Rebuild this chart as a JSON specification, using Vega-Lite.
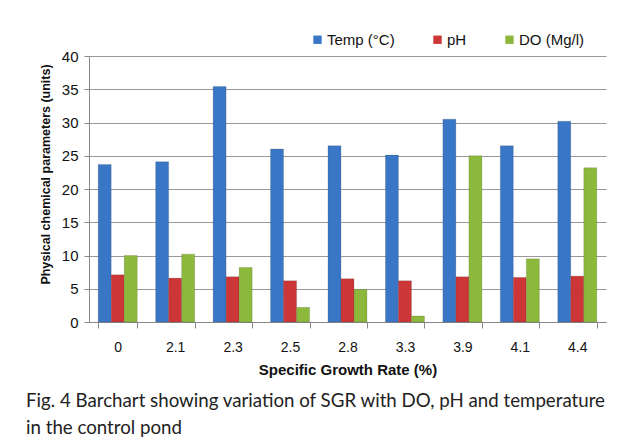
{
  "$schema": "https://vega.github.io/schema/vega-lite/v6.json",
  "autosize": {"type": "none"},
  "width": 517,
  "height": 266,
  "padding": {"left": 89, "top": 56, "right": 21, "bottom": 122},
  "background": "white",
  "title": {
    "text": ["Fig. 4 Barchart showing variation of SGR with DO, pH and temperature", "in the control pond"],
    "orient": "bottom",
    "anchor": "start",
    "frame": "group",
    "dx": -63,
    "offset": 15,
    "font": "Lato",
    "fontSize": 18.7,
    "fontWeight": "normal",
    "color": "#222",
    "lineHeight": 27
  },
  "data": {
    "values": [
      {"sgr": "0", "param": "Temp (°C)", "value": 23.7},
      {"sgr": "0", "param": "pH", "value": 7.1},
      {"sgr": "0", "param": "DO (Mg/l)", "value": 10.0},
      {"sgr": "2.1", "param": "Temp (°C)", "value": 24.1},
      {"sgr": "2.1", "param": "pH", "value": 6.6},
      {"sgr": "2.1", "param": "DO (Mg/l)", "value": 10.2},
      {"sgr": "2.3", "param": "Temp (°C)", "value": 35.4},
      {"sgr": "2.3", "param": "pH", "value": 6.8},
      {"sgr": "2.3", "param": "DO (Mg/l)", "value": 8.2},
      {"sgr": "2.5", "param": "Temp (°C)", "value": 26.0},
      {"sgr": "2.5", "param": "pH", "value": 6.2},
      {"sgr": "2.5", "param": "DO (Mg/l)", "value": 2.2},
      {"sgr": "2.8", "param": "Temp (°C)", "value": 26.5},
      {"sgr": "2.8", "param": "pH", "value": 6.5},
      {"sgr": "2.8", "param": "DO (Mg/l)", "value": 4.9},
      {"sgr": "3.3", "param": "Temp (°C)", "value": 25.1},
      {"sgr": "3.3", "param": "pH", "value": 6.2},
      {"sgr": "3.3", "param": "DO (Mg/l)", "value": 0.9},
      {"sgr": "3.9", "param": "Temp (°C)", "value": 30.5},
      {"sgr": "3.9", "param": "pH", "value": 6.8},
      {"sgr": "3.9", "param": "DO (Mg/l)", "value": 25.0},
      {"sgr": "4.1", "param": "Temp (°C)", "value": 26.5},
      {"sgr": "4.1", "param": "pH", "value": 6.7},
      {"sgr": "4.1", "param": "DO (Mg/l)", "value": 9.5},
      {"sgr": "4.4", "param": "Temp (°C)", "value": 30.2},
      {"sgr": "4.4", "param": "pH", "value": 6.9},
      {"sgr": "4.4", "param": "DO (Mg/l)", "value": 23.2}
    ]
  },
  "mark": {"type": "bar", "stroke": "#33333355", "strokeWidth": 0.5},
  "encoding": {
    "x": {
      "field": "sgr",
      "type": "nominal",
      "sort": null,
      "scale": {"paddingInner": 0.32, "paddingOuter": 0.16},
      "axis": {
        "title": "Specific Growth Rate (%)",
        "titleFont": "Liberation Sans",
        "titleFontSize": 15,
        "titleFontWeight": "bold",
        "titleColor": "#111",
        "titlePadding": 8,
        "labelFont": "Liberation Sans",
        "labelFontSize": 14,
        "labelColor": "#111",
        "labelAngle": 0,
        "labelPadding": 12,
        "tickBand": "extent",
        "tickSize": 6,
        "tickColor": "#888",
        "domainColor": "#888",
        "grid": false
      }
    },
    "xOffset": {"field": "param", "type": "nominal", "sort": ["Temp (°C)", "pH", "DO (Mg/l)"], "scale": {"paddingInner": 0}},
    "y": {
      "field": "value",
      "type": "quantitative",
      "scale": {"domain": [0, 40]},
      "axis": {
        "title": "Physical chemical parameters (units)",
        "titleFont": "Liberation Sans",
        "titleFontSize": 12.5,
        "titleFontWeight": "bold",
        "titleColor": "#111",
        "titlePadding": 9,
        "titleAnchor": "middle",
        "titleY": 118,
        "values": [0, 5, 10, 15, 20, 25, 30, 35, 40],
        "labelFont": "Liberation Sans",
        "labelFontSize": 15,
        "labelColor": "#111",
        "labelPadding": 6,
        "tickSize": 5,
        "tickColor": "#888",
        "domainColor": "#888",
        "gridColor": "#999",
        "gridWidth": 1.2
      }
    },
    "color": {
      "field": "param",
      "type": "nominal",
      "sort": ["Temp (°C)", "pH", "DO (Mg/l)"],
      "scale": {"domain": ["Temp (°C)", "pH", "DO (Mg/l)"], "range": ["#3a76c6", "#cc3636", "#8cb93c"]},
      "legend": {
        "title": null,
        "orient": "none",
        "direction": "horizontal",
        "legendX": 221,
        "legendY": -24,
        "symbolType": "square",
        "symbolSize": 70,
        "symbolStrokeWidth": 0,
        "labelFont": "Liberation Sans",
        "labelFontSize": 15,
        "labelColor": "#111",
        "labelOffset": 2,
        "columnPadding": 35
      }
    }
  },
  "config": {"view": {"stroke": null}}
}
